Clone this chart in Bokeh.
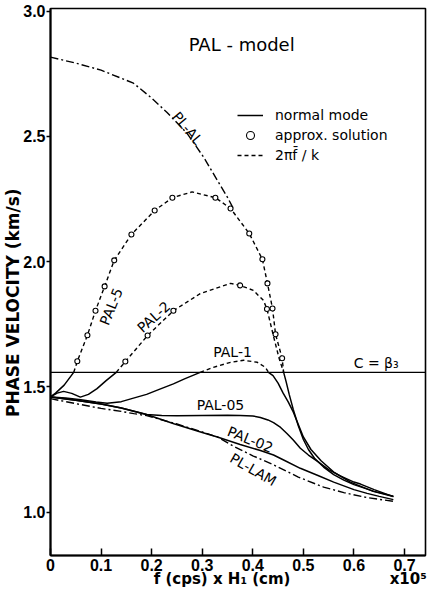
import math
from bokeh.plotting import figure
from bokeh.models import (Span, Label, Legend, LegendItem, FixedTicker,
                          PrintfTickFormatter, ColumnDataSource)
from bokeh.core.properties import value
from bokeh.embed import file_html
from bokeh.resources import INLINE

# ---------------- data ----------------
x_ticks = [0, 0.1, 0.2, 0.3, 0.4, 0.5, 0.6, 0.7]
y_ticks = [1.0, 1.5, 2.0, 2.5, 3.0]
beta3 = 1.558

# normal mode, dash-dot
pl_al_x = [0, 0.05, 0.1, 0.164, 0.198, 0.23, 0.27, 0.303, 0.33, 0.35, 0.362]
pl_al_y = [2.816, 2.792, 2.764, 2.712, 2.656, 2.596, 2.512, 2.416, 2.324, 2.256, 2.21]

pl_lam_x = [0, 0.05, 0.1, 0.14, 0.165, 0.19, 0.25, 0.3, 0.33, 0.36, 0.4, 0.44,
            0.49, 0.54, 0.58, 0.626, 0.678]
pl_lam_y = [1.453, 1.433, 1.414, 1.402, 1.393, 1.385, 1.352, 1.32, 1.3, 1.265,
            1.225, 1.19, 1.14, 1.1, 1.078, 1.058, 1.043]

# normal mode, solid
pal5_lo_x = [0, 0.01, 0.027, 0.044, 0.046]
pal5_lo_y = [1.46, 1.475, 1.507, 1.553, 1.558]
pal5_hi_x = [0.461, 0.466, 0.472, 0.48, 0.49, 0.5, 0.51, 0.522, 0.54, 0.56,
             0.58, 0.6, 0.64, 0.678]
pal5_hi_y = [1.558, 1.52, 1.47, 1.41, 1.345, 1.29, 1.25, 1.215, 1.18, 1.15,
             1.128, 1.11, 1.083, 1.064]

pal2_lo_x = [0, 0.013, 0.026, 0.042, 0.059, 0.075, 0.092, 0.11, 0.13]
pal2_lo_y = [1.46, 1.475, 1.482, 1.474, 1.459, 1.47, 1.493, 1.525, 1.558]

pal1_lo_x = [0, 0.03, 0.06, 0.09, 0.112, 0.14, 0.164, 0.19, 0.215, 0.243,
             0.265, 0.296]
pal1_lo_y = [1.46, 1.456, 1.449, 1.44, 1.435, 1.441, 1.455, 1.47, 1.49, 1.512,
             1.532, 1.558]
pal1_hi_x = [0.431, 0.44, 0.45, 0.46, 0.47, 0.48, 0.49, 0.5, 0.515, 0.535,
             0.56, 0.593, 0.638, 0.678]
pal1_hi_y = [1.558, 1.545, 1.515, 1.475, 1.44, 1.4, 1.35, 1.3, 1.25, 1.205,
             1.16, 1.12, 1.083, 1.062]

pal05_x = [0, 0.05, 0.1, 0.14, 0.19, 0.22, 0.25, 0.3, 0.35, 0.375, 0.4, 0.415,
           0.43, 0.441, 0.455, 0.468, 0.48, 0.494, 0.51, 0.528, 0.55, 0.573,
           0.6, 0.613, 0.64, 0.678]
pal05_y = [1.46, 1.447, 1.432, 1.416, 1.39, 1.386, 1.385, 1.386, 1.387, 1.386,
           1.384, 1.378, 1.368, 1.357, 1.338, 1.313, 1.288, 1.255, 1.228,
           1.203, 1.17, 1.145, 1.12, 1.112, 1.09, 1.062]

pal02_x = [0, 0.05, 0.1, 0.14, 0.19, 0.244, 0.3, 0.33, 0.375, 0.415, 0.441,
           0.461, 0.494, 0.53, 0.56, 0.6, 0.626, 0.65, 0.678]
pal02_y = [1.46, 1.447, 1.432, 1.416, 1.39, 1.353, 1.318, 1.3, 1.27, 1.246,
           1.228, 1.208, 1.175, 1.145, 1.12, 1.09, 1.075, 1.063, 1.05]

# 2*pi*fbar/k, dashed
pal5_d_x = [0.046, 0.053, 0.073, 0.089, 0.107, 0.126, 0.16, 0.206, 0.241, 0.28,
            0.326, 0.356, 0.393, 0.419, 0.429, 0.439, 0.445, 0.458, 0.461]
pal5_d_y = [1.558, 1.602, 1.706, 1.804, 1.901, 2.005, 2.108, 2.204, 2.255,
            2.278, 2.255, 2.212, 2.112, 2.009, 1.913, 1.813, 1.71, 1.614, 1.558]
pal2_d_x = [0.13, 0.148, 0.192, 0.243, 0.296, 0.356, 0.375, 0.401, 0.421, 0.428,
            0.44, 0.452, 0.461]
pal2_d_y = [1.558, 1.601, 1.705, 1.804, 1.872, 1.913, 1.905, 1.885, 1.845,
            1.811, 1.71, 1.614, 1.558]
pal1_d_x = [0.296, 0.322, 0.356, 0.382, 0.409, 0.425, 0.431]
pal1_d_y = [1.558, 1.578, 1.598, 1.606, 1.598, 1.578, 1.558]

# approximate solution, circles
circ_x = [0.053, 0.073, 0.089, 0.107, 0.126, 0.16, 0.206, 0.241, 0.326, 0.356,
          0.393, 0.419, 0.429, 0.439, 0.445, 0.458,
          0.148, 0.192, 0.243, 0.375, 0.428]
circ_y = [1.602, 1.706, 1.804, 1.901, 2.005, 2.108, 2.204, 2.255, 2.255, 2.212,
          2.112, 2.009, 1.913, 1.813, 1.71, 1.614,
          1.601, 1.705, 1.804, 1.905, 1.811]

# curve labels
lab_text = ["PL-AL", "PAL-5", "PAL-2", "PAL-1", "PAL-05", "PAL-02", "PL-LAM"]
lab_x = [0.271, 0.12, 0.204, 0.36, 0.336, 0.395, 0.401]
lab_y = [2.532, 1.821, 1.779, 1.638, 1.426, 1.29, 1.17]
lab_deg = [-50, 68, 42, 0, 0, -22, -30]

NB = "\u00a0"
x_title = NB * 20 + "f (cps) x H₁ (cm)" + NB * 19 + "x10⁵"
y_title = "PHASE VELOCITY (km/s)" + NB * 7

# ---------------- figure ----------------
p = figure(width=429, height=590, x_range=(0, 0.7415), y_range=(0.827, 3.01),
           output_backend="svg", toolbar_location=None,
           min_border_left=50, min_border_right=4, min_border_top=8,
           min_border_bottom=35, background_fill_color="white",
           border_fill_color="white")
p.grid.visible = False
p.outline_line_color = "black"
p.outline_line_width = 1.6
p.outline_line_alpha = 1.0

FONT = value("DejaVu Sans")
TICKFONT = "Liberation Sans"

xa = p.xaxis[0]
xa.ticker = FixedTicker(ticks=x_ticks)
xa.formatter = PrintfTickFormatter(format="%.1f")
xa.major_label_overrides = {0: "0"}
xa.major_tick_in = 7
xa.major_tick_out = 0
xa.minor_tick_in = 0
xa.minor_tick_out = 0
xa.axis_line_width = 2
xa.major_tick_line_width = 1.5
xa.major_label_standoff = 3
xa.major_label_text_font = TICKFONT
xa.major_label_text_font_style = "bold"
xa.major_label_text_font_size = "16px"
xa.major_label_text_color = "black"
xa.axis_label = x_title
xa.axis_label_standoff = -4
xa.axis_label_text_font = "DejaVu Sans"
xa.axis_label_text_font_style = "bold"
xa.axis_label_text_font_size = "15px"
xa.axis_label_text_color = "black"

ya = p.yaxis[0]
ya.ticker = FixedTicker(ticks=y_ticks)
ya.formatter = PrintfTickFormatter(format="%.1f")
ya.major_tick_in = 0
ya.major_tick_out = 4
ya.minor_tick_in = 0
ya.minor_tick_out = 0
ya.axis_line_width = 2
ya.major_tick_line_width = 1.5
ya.major_label_standoff = 1
ya.major_label_text_font = TICKFONT
ya.major_label_text_font_style = "bold"
ya.major_label_text_font_size = "16px"
ya.major_label_text_color = "black"
ya.axis_label = y_title
ya.axis_label_standoff = -3
ya.axis_label_text_font = "DejaVu Sans"
ya.axis_label_text_font_style = "bold"
ya.axis_label_text_font_size = "17px"
ya.axis_label_text_color = "black"

# horizontal line C = beta3
p.add_layout(Span(location=beta3, dimension="width", line_color="black",
                  line_width=1.4))

SOLID = dict(line_color="black", line_width=1.5)
DASHDOT = dict(line_color="black", line_width=1.4, line_dash="8 3 2 3")
DASHED = dict(line_color="black", line_width=1.4, line_dash="4 3")

r_lam = p.line(pl_lam_x, pl_lam_y, **DASHDOT)
r_al = p.line(pl_al_x, pl_al_y, **DASHDOT)
r_solid = p.line(pal5_lo_x, pal5_lo_y, **SOLID)
p.line(pal5_hi_x, pal5_hi_y, **SOLID)
p.line(pal2_lo_x, pal2_lo_y, **SOLID)
p.line(pal1_lo_x, pal1_lo_y, **SOLID)
p.line(pal1_hi_x, pal1_hi_y, **SOLID)
p.line(pal05_x, pal05_y, **SOLID)
p.line(pal02_x, pal02_y, **SOLID)
r_dash = p.line(pal5_d_x, pal5_d_y, **DASHED)
p.line(pal2_d_x, pal2_d_y, **DASHED)
p.line(pal1_d_x, pal1_d_y, **DASHED)
r_circ = p.scatter(circ_x, circ_y, marker="circle", size=5,
                   fill_color="white", line_color="black", line_width=1.1)

# curve labels
src = ColumnDataSource(dict(x=lab_x, y=lab_y, t=lab_text,
                            a=[math.radians(d) for d in lab_deg]))
p.text(x="x", y="y", text="t", angle="a", source=src, text_font=FONT,
       text_font_size="14px", text_align="center", text_baseline="middle",
       text_color="black")

# title inside plot
p.add_layout(Label(x=0.378, y=2.868, text="PAL - model", text_font="DejaVu Sans",
                   text_font_size="18px", text_align="center",
                   text_baseline="middle", text_color="black"))
# C = beta3
p.add_layout(Label(x=0.644, y=1.594, text="C = β₃", text_font="DejaVu Sans",
                   text_font_size="14px", text_align="center",
                   text_baseline="middle", text_color="black"))

# legend
legend = Legend(items=[LegendItem(label="normal mode", renderers=[r_solid]),
                       LegendItem(label="approx. solution", renderers=[r_circ]),
                       LegendItem(label="2πf̄ / k", renderers=[r_dash])],
                location=(187, 390), padding=0, margin=0, spacing=0,
                label_height=20, glyph_height=20, glyph_width=26,
                label_standoff=12, border_line_alpha=0,
                background_fill_alpha=0, label_text_font="DejaVu Sans",
                label_text_font_size="14px", label_text_color="black")
p.add_layout(legend)

open("out.html", "w").write(file_html(p, INLINE))
